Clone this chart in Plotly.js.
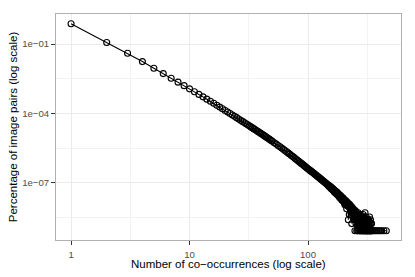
<!DOCTYPE html>
<html>
<head>
<meta charset="utf-8">
<script src="https://cdn.plot.ly/plotly-3.0.1.min.js"></script>
<style>html,body{margin:0;padding:0;background:#fff}#chart{width:415px;height:277px}</style>
</head>
<body>
<div id="chart"></div>
<script>
// Number of co-occurrences (x) and percentage of image pairs (y)
const coOccurrences = [
  1,2,3,4,5,6,7,8,9,10,11,12,13,14,15,16,17,18,19,20,
  21,22,23,24,25,26,27,28,29,30,31,32,33,34,35,36,37,38,39,40,
  41,42,43,44,45,46,47,48,49,50,52,54,56,58,60,62,64,66,68,70,
  72,74,76,78,80,82,84,86,88,90,92,94,96,98,100,102,104,106,108,110,
  112,114,116,118,120,122,124,126,128,130,132,134,136,138,140,142,144,146,148,
  150,151,152,153,154,155,156,157,158,159,160,161,162,163,164,165,166,167,168,169,
  170,171,172,173,174,175,176,177,178,179,180,181,182,183,184,185,186,187,188,189,
  190,191,192,193,194,195,196,197,198,199,200,201,202,203,204,205,206,207,208,209,
  210,211,212,213,214,215,216,217,218,219,220,221,222,223,224,225,226,227,228,229,
  230,231,232,233,234,235,236,237,238,239,240,241,242,243,244,245,246,247,248,249,
  250,251,252,253,254,255,256,257,258,259,260,261,262,263,264,265,266,267,268,269,
  270,271,272,273,274,275,276,277,278,279,280,281,282,283,284,285,286,287,288,289,
  290,291,292,293,294,295,296,297,298,299,300,301,302,303,304,305,306,307,308,309,
  310,311,312,313,314,315,316,318,319,320,321,323,324,325,327,328,330,331,332,334,
  335,337,338,340,341,343,344,346,352,361,370,381,393,405,418,437,458
];
const percentPairs = [
  7.6e-1,1.17e-1,4.0e-2,1.74e-2,8.9e-3,5.25e-3,3.31e-3,2.24e-3,1.58e-3,1.15e-3,
  8.61e-4,6.61e-4,5.18e-4,4.12e-4,3.32e-4,2.72e-4,2.24e-4,1.87e-4,1.58e-4,1.34e-4,
  1.15e-4,9.86e-5,8.53e-5,7.43e-5,6.52e-5,5.73e-5,5.06e-5,4.49e-5,4.00e-5,3.57e-5,
  3.20e-5,2.88e-5,2.60e-5,2.35e-5,2.13e-5,1.94e-5,1.77e-5,1.62e-5,1.48e-5,1.36e-5,
  1.25e-5,1.15e-5,1.06e-5,9.77e-6,9.04e-6,8.36e-6,7.74e-6,7.19e-6,6.67e-6,6.19e-6,
  5.37e-6,4.68e-6,4.08e-6,3.58e-6,3.15e-6,2.78e-6,2.46e-6,2.18e-6,1.95e-6,1.73e-6,
  1.55e-6,1.39e-6,1.25e-6,1.12e-6,1.01e-6,9.16e-7,8.30e-7,7.53e-7,6.84e-7,6.24e-7,
  5.68e-7,5.19e-7,4.74e-7,4.35e-7,3.98e-7,3.68e-7,3.41e-7,3.16e-7,2.94e-7,2.73e-7,
  2.54e-7,2.36e-7,2.20e-7,2.05e-7,1.91e-7,1.79e-7,1.67e-7,1.56e-7,1.46e-7,1.37e-7,
  1.28e-7,1.20e-7,1.13e-7,1.06e-7,9.95e-8,9.35e-8,8.81e-8,8.28e-8,7.80e-8,
  7.1e-8,7.5e-8,6.6e-8,7.0e-8,6.4e-8,6.6e-8,5.8e-8,6.2e-8,5.5e-8,6.0e-8,
  5.2e-8,5.6e-8,4.8e-8,5.3e-8,4.6e-8,5.0e-8,4.3e-8,4.7e-8,3.9e-8,4.4e-8,
  4.1e-8,3.7e-8,4.2e-8,3.4e-8,3.8e-8,3.6e-8,3.2e-8,3.7e-8,3.0e-8,3.3e-8,
  3.1e-8,2.7e-8,3.2e-8,2.6e-8,2.9e-8,2.3e-8,2.8e-8,2.5e-8,2.2e-8,2.7e-8,
  2.2e-8,2.0e-8,2.4e-8,1.8e-8,2.2e-8,2.1e-8,1.7e-8,2.2e-8,1.7e-8,2.0e-8,
  1.6e-8,1.9e-8,1.4e-8,1.7e-8,1.7e-8,1.1e-8,1.6e-8,1.3e-8,1.7e-8,1.2e-8,
  1.4e-8,1.5e-8,7.5e-9,1.3e-8,1.2e-8,1.4e-8,1.0e-8,1.2e-8,1.1e-8,2.5e-9,
  1.2e-8,9.1e-9,1.2e-8,4.2e-9,1.0e-8,8.3e-9,1.1e-8,7.5e-9,1.0e-8,5.8e-9,
  9.1e-9,8.3e-9,5.0e-9,9.1e-9,1.7e-9,7.5e-9,8.3e-9,5.8e-9,6.6e-9,3.3e-9,
  7.5e-9,5.0e-9,6.6e-9,4.2e-9,5.8e-9,2.5e-9,5.0e-9,6.6e-9,3.3e-9,8.3e-10,
  5.0e-9,4.2e-9,2.5e-9,5.8e-9,1.7e-9,4.2e-9,3.3e-9,5.0e-9,8.3e-10,2.5e-9,
  4.2e-9,1.7e-9,3.3e-9,8.3e-10,2.5e-9,5.0e-9,1.7e-9,3.3e-9,8.3e-10,2.5e-9,
  4.2e-9,1.7e-9,8.3e-10,3.3e-9,1.7e-9,2.5e-9,8.3e-10,4.2e-9,1.7e-9,2.5e-9,
  8.3e-10,3.3e-9,1.7e-9,8.3e-10,2.5e-9,1.7e-9,3.3e-9,8.3e-10,1.7e-9,2.5e-9,
  8.3e-10,1.7e-9,4.2e-9,8.3e-10,1.7e-9,2.5e-9,8.3e-10,1.7e-9,3.3e-9,8.3e-10,
  1.7e-9,2.5e-9,8.3e-10,5.0e-9,1.7e-9,8.3e-10,2.5e-9,1.7e-9,8.3e-10,1.7e-9,
  3.3e-9,8.3e-10,1.7e-9,8.3e-10,2.5e-9,8.3e-10,1.7e-9,8.3e-10,2.5e-9,1.7e-9,
  8.3e-10,1.7e-9,8.3e-10,2.5e-9,8.3e-10,1.7e-9,8.3e-10,3.3e-9,8.3e-10,1.7e-9,
  8.3e-10,2.5e-9,8.3e-10,1.7e-9,8.3e-10,8.3e-10,1.7e-9,8.3e-10,8.3e-10,8.3e-10,
  8.3e-10,8.3e-10,8.3e-10,8.3e-10,8.3e-10,8.3e-10,8.3e-10
];
const xTickVals = [1, 10, 100];
const xTickText = ['1', '10', '100'];
const yTickVals = [1e-1, 1e-4, 1e-7];
const yTickText = ['1e\u221201', '1e\u221204', '1e\u221207'];
const xMinorVals = [3.1623, 31.623, 316.23];
const yMinorVals = [3.1623e-3, 3.1623e-6, 3.1623e-9];
const xTitle = 'Number of co\u2212occurrences (log scale)';
const yTitle = 'Percentage of image pairs (log scale)';

const font = 'Liberation Sans, Arial, Helvetica, sans-serif';
const trace = {
  x: coOccurrences, y: percentPairs, type: 'scatter', mode: 'lines+markers',
  line: {color: '#000', width: 1.1},
  marker: {symbol: 'circle-open', size: 6, color: '#000', line: {width: 1.1, color: '#000'}},
  hoverinfo: 'skip'
};
const axisCommon = {
  type: 'log', showline: true, mirror: true, linecolor: '#b0b0b0', linewidth: 1,
  ticks: 'outside', ticklen: 4, tickwidth: 1, tickcolor: '#333',
  tickmode: 'array', showgrid: true, gridcolor: '#ebebeb', gridwidth: 1,
  tickfont: {family: font, size: 9.6, color: '#4d4d4d'}, zeroline: false
};
const layout = {
  width: 415, height: 277,
  margin: {l: 56, r: 14, t: 14, b: 37, pad: 0},
  paper_bgcolor: '#fff', plot_bgcolor: '#fff', showlegend: false,
  xaxis: Object.assign({}, axisCommon, {
    range: [-0.127, 2.785], tickvals: xTickVals, ticktext: xTickText, ticklabelstandoff: 1,
    minor: {tickmode: 'array', tickvals: xMinorVals, showgrid: true, gridcolor: '#f3f3f3', ticks: ''}
  }),
  yaxis: Object.assign({}, axisCommon, {
    range: [-9.48, 0.30], tickvals: yTickVals, ticktext: yTickText,
    minor: {tickmode: 'array', tickvals: yMinorVals, showgrid: true, gridcolor: '#f3f3f3', ticks: ''},
    title: {text: yTitle, font: {family: font, size: 11.5, color: '#000'}, standoff: 2}
  }),
  annotations: [{
    text: xTitle, xref: 'paper', yref: 'paper', x: 0.5, y: -0.108,
    xanchor: 'center', yanchor: 'middle', showarrow: false,
    font: {family: font, size: 11.5, color: '#000'}
  }]
};
Plotly.newPlot('chart', [trace], layout, {staticPlot: true, displayModeBar: false});
</script>
</body>
</html>
